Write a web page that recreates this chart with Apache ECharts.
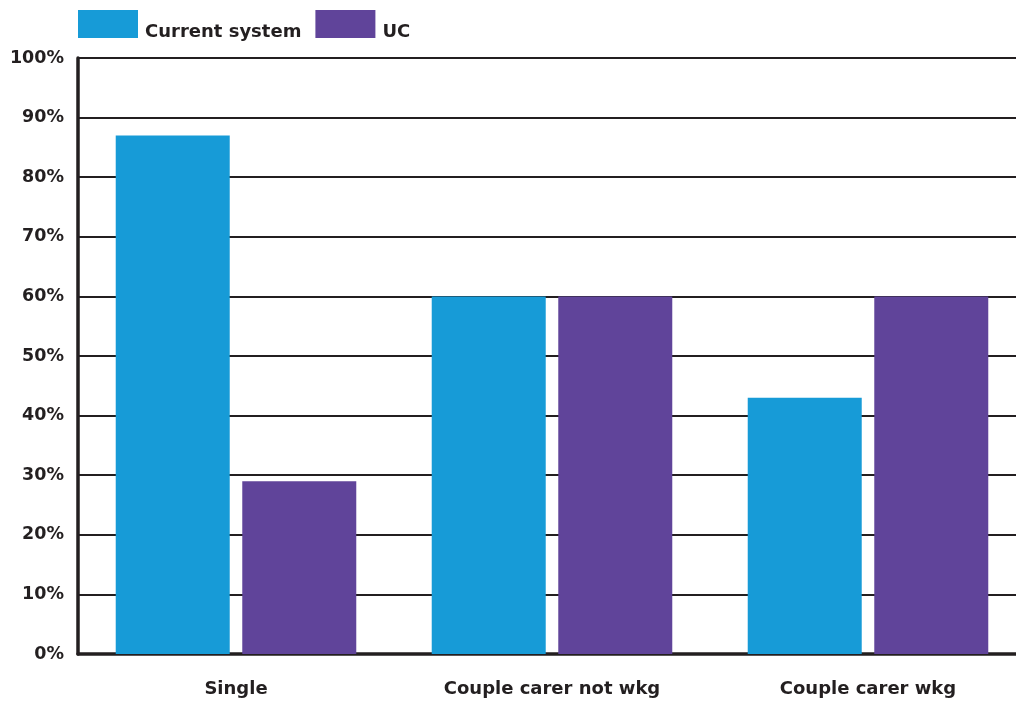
<!DOCTYPE html>
<html><head><meta charset="utf-8">
<script src="https://cdn.jsdelivr.net/npm/echarts@6/dist/echarts.min.js"></script>
<style>html,body{margin:0;padding:0;background:#fff;overflow:hidden}#c{width:1026px;height:704px}</style>
</head><body><div id="c"></div>
<script>
const categories = ['Single', 'Couple carer not wkg', 'Couple carer wkg'];
const currentSystem = [87, 60, 43];
const uc = [29, 60, 60];
const seriesNames = ['Current system', 'UC'];

const chart = echarts.init(document.getElementById('c'), null, {renderer: 'canvas'});
const txt = '#231f20';
const font = 'DejaVu Sans';
chart.setOption({
  animation: false,
  legend: {
    left: 78, top: 10, itemWidth: 60, itemHeight: 28, itemGap: 14, padding: 0,
    formatter: '{t|{name}}',
    textStyle: {
      fontFamily: font, fontWeight: 'bold', fontSize: 18, color: txt,
      rich: {t: {fontFamily: font, fontWeight: 'bold', fontSize: 18, color: txt, padding: [16, 0, 0, 2]}}
    },
    data: seriesNames.map(n => ({name: n, icon: 'rect'}))
  },
  grid: {left: 78, right: 0, top: 58, bottom: 50, containLabel: false},
  xAxis: {
    type: 'category', data: categories,
    axisLine: {lineStyle: {color: txt, width: 3.5}},
    axisTick: {show: false},
    axisLabel: {fontFamily: font, fontWeight: 'bold', fontSize: 18, color: txt, margin: 26}
  },
  yAxis: {
    type: 'value', min: 0, max: 100, interval: 10,
    axisLine: {show: true, lineStyle: {color: txt, width: 3.5}},
    axisTick: {show: false},
    axisLabel: {formatter: '{value}%', fontFamily: font, fontWeight: 'bold', fontSize: 17.5, color: txt, margin: 14},
    splitLine: {lineStyle: {color: txt, width: 2}}
  },
  series: [
    {name: seriesNames[0], type: 'bar', data: currentSystem, barWidth: 114, barGap: '11%', itemStyle: {color: '#179bd7'}},
    {name: seriesNames[1], type: 'bar', data: uc, barWidth: 114, itemStyle: {color: '#60449a'}}
  ]
});
</script></body></html>
